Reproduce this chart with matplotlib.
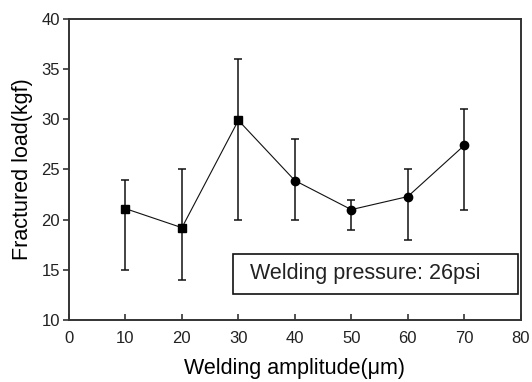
import matplotlib
matplotlib.use("Agg")
import matplotlib.pyplot as plt
from matplotlib.patches import Rectangle

plt.rcParams['font.family'] = ['Liberation Sans', 'DejaVu Sans']

amplitude = [10, 20, 30, 40, 50, 60, 70]
load_mean = [21.1, 19.2, 29.9, 23.9, 21.0, 22.3, 27.4]
load_max = [24.0, 25.0, 36.0, 28.0, 22.0, 25.0, 31.0]
load_min = [15.0, 14.0, 20.0, 20.0, 19.0, 18.0, 21.0]
markers = ['s', 's', 's', 'o', 'o', 'o', 'o']
xticks = [0, 10, 20, 30, 40, 50, 60, 70, 80]
yticks = [10, 15, 20, 25, 30, 35, 40]
annotation = "Welding pressure: 26psi"

fig = plt.figure(figsize=(5.32, 3.82), dpi=100)
ax = fig.add_axes([0.1297, 0.1623, 0.849, 0.788])

err_lo = [m - lo for m, lo in zip(load_mean, load_min)]
err_hi = [hi - m for m, hi in zip(load_mean, load_max)]
ax.errorbar(amplitude, load_mean, yerr=[err_lo, err_hi], fmt='none',
            ecolor='#111111', elinewidth=1.1, capsize=3, capthick=1.1, zorder=2)
ax.plot(amplitude, load_mean, color='#111111', lw=0.8, zorder=3)
for x, y, m in zip(amplitude, load_mean, markers):
    ax.plot([x], [y], marker=m, color='black', ms=5.5 if m == 's' else 6, ls='none', zorder=4)

ax.set_xlim(0, 80)
ax.set_ylim(10, 40)
ax.set_xticks(xticks)
ax.set_yticks(yticks)
ax.tick_params(axis='x', direction='in', length=4, width=1.1, labelsize=12, pad=8, colors='#222222')
ax.tick_params(axis='y', direction='out', length=4.5, width=1.1, labelsize=12, pad=2, colors='#222222')
for s in ax.spines.values():
    s.set_linewidth(1.4)
    s.set_color('#333333')

ax.set_xlabel("Welding amplitude(\u03bcm)", fontsize=15.5, labelpad=8.5)
ax.set_ylabel("Fractured load(kgf)", fontsize=15.5, labelpad=6)

box = Rectangle((0.363, 0.087), 0.631, 0.133, transform=ax.transAxes,
                fill=False, edgecolor='#111111', lw=1.2, zorder=5)
ax.add_patch(box)
ax.text(0.400, 0.153, annotation, transform=ax.transAxes, fontsize=15.5,
        ha='left', va='center', color='#222222', zorder=6)

fig.savefig("out.png", dpi=100)
